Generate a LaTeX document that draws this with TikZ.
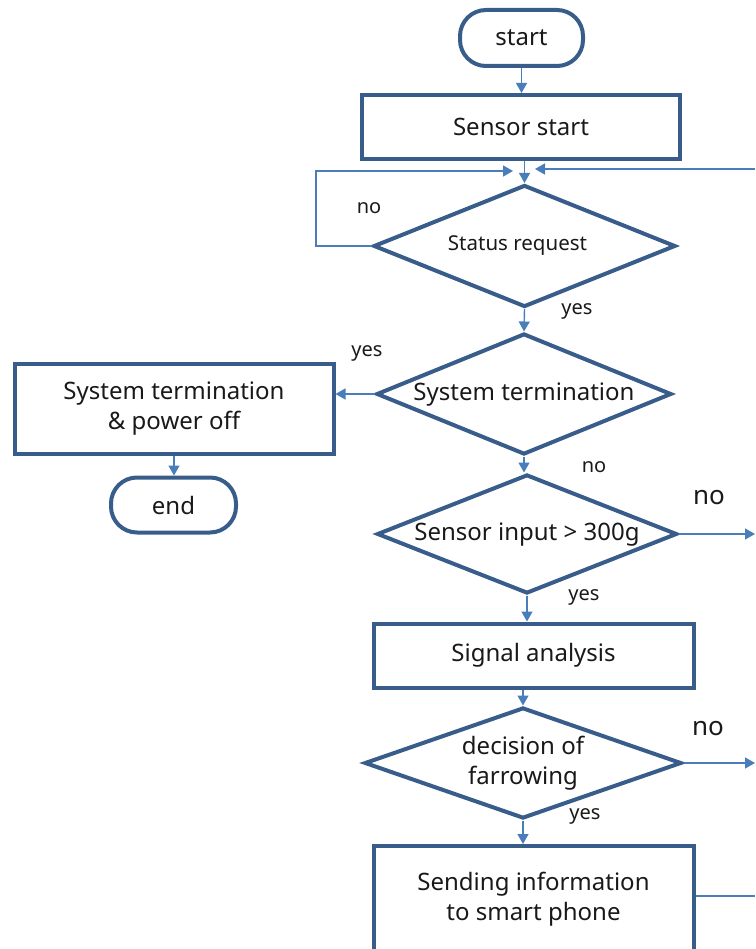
\documentclass[tikz,border=0pt]{standalone}
\usepackage{fontspec}
\setmainfont{Noto Sans}
\usetikzlibrary{positioning,arrows.meta,shapes.geometric}
\definecolor{boxblue}{HTML}{385D8A}
\definecolor{lineblue}{HTML}{4A7EBB}
\newcommand{\dtext}[1]{\makebox[0pt]{\begin{tabular}{@{}c@{}}#1\end{tabular}}}

\begin{document}
\begin{tikzpicture}[x=1pt, y=-1pt,
  box/.style={draw=boxblue, line width=4pt, align=center, inner sep=0pt, text=black!90,
              font=\fontsize{24}{30}\selectfont},
  term/.style={box, rounded corners=26pt},
  dec/.style={box, diamond, font=\fontsize{24}{30}\selectfont},
  ar/.style={-{Triangle[length=10pt, width=11pt]}, draw=lineblue, line width=1.4pt},
  ln/.style={draw=lineblue, line width=1.4pt},
  lbl/.style={font=\fontsize{20}{22}\selectfont, text=black!90},
  biglbl/.style={lbl, font=\fontsize{26}{28}\selectfont}
]
\useasboundingbox (0,0) rectangle (755,949);
\clip (0,0) rectangle (755,949);

% main column
\node[term, minimum width=123pt, minimum height=56pt] (start) at (521.5,38) {start};
\node[box, minimum width=318pt, minimum height=64pt] (sensor) at (521,127) {Sensor start};
\node[dec, minimum width=302pt, minimum height=122pt, font=\fontsize{20.5}{24}\selectfont] (status) at (524.5,246) {\dtext{\hspace*{-14pt}Status request}};
\node[dec, minimum width=295pt, minimum height=121pt] (sysdec) at (524,394) {\dtext{System termination}};
\node[dec, minimum width=300pt, minimum height=119pt] (input) at (527,534) {\dtext{Sensor input > 300g}};
\node[box, minimum width=320pt, minimum height=64pt] (signal) at (533.5,655.5) {Signal analysis};
\node[dec, minimum width=317pt, minimum height=111pt] (farrow) at (523,763) {\dtext{decision of\\farrowing}};
\node[box, minimum width=320pt, minimum height=106pt] (send) at (533.5,899) {Sending information\\to smart phone};

% termination branch
\node[box, minimum width=319pt, minimum height=90pt] (sysbox) at (174,408.5) {System termination\\\& power off};
\node[term, minimum width=125pt, minimum height=55pt] (end) at (173.5,505) {end};

% loop points and right edge
\coordinate (loopL) at (316,171);
\coordinate (joinL) at (513,171);
\coordinate (joinR) at (535,169);
\coordinate (edgeA) at (755,169);
\coordinate (edgeB) at (755,534);
\coordinate (edgeC) at (755,763);
\coordinate (edgeD) at (755,896);

\draw[ar] (start) -- (sensor.north -| start);
\draw[ar] (sensor.south -| status.north) -- (status.north);
\draw[ar] (status.west) -| (loopL) -- (joinL);
\draw[ar] (edgeA) -- (joinR);
\draw[ar] (status.south) -- (sysdec.north);
\draw[ar] (sysdec.west) -- (sysbox.east |- sysdec.west);
\draw[ar] (sysbox.south) -- (end.north -| sysbox.south);
\draw[ar] (sysdec.south) -- (input.north -| sysdec.south);
\draw[ar] (input.east) -- (edgeB);
\draw[ar] (input.south) -- (signal.north -| input.south);
\draw[ar] (signal.south -| farrow.north) -- (farrow.north);
\draw[ar] (farrow.east) -- (edgeC);
\draw[ar] (farrow.south) -- (send.north -| farrow.south);
\draw[ln] (send.east |- edgeD) -- (edgeD);

% branch labels
\node[lbl] (noA) at (369,208) {no};
\node[lbl] (yesA) at (577,311) {yes};
\node[lbl] (yesB) at (367,353) {yes};
\node[lbl] (noB) at (594,467) {no};
\node[biglbl] (noC) at (709,498) {no};
\node[lbl] (yesC) at (584,597) {yes};
\node[biglbl] (noD) at (708,729) {no};
\node[lbl] (yesD) at (585,816) {yes};
\end{tikzpicture}
\end{document}
